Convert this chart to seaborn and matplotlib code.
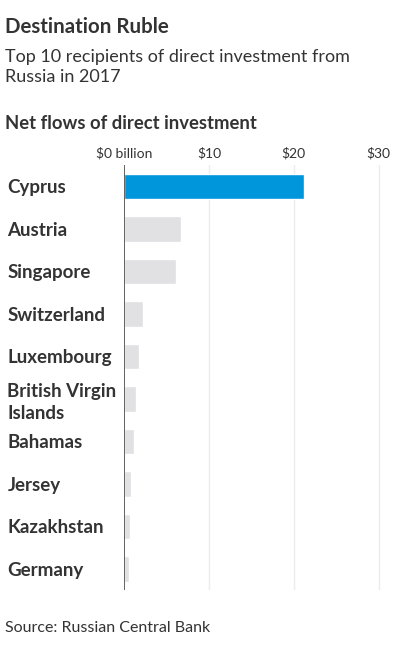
import matplotlib
matplotlib.use('Agg')
import matplotlib.pyplot as plt
import seaborn as sns
import pandas as pd

countries = ['Cyprus', 'Austria', 'Singapore', 'Switzerland', 'Luxembourg',
             'British Virgin\nIslands', 'Bahamas', 'Jersey', 'Kazakhstan', 'Germany']
flows = [21.2, 6.7, 6.1, 2.2, 1.8, 1.4, 1.2, 0.8, 0.7, 0.6]
tick_values = [0, 10, 20, 30]
tick_labels = ['$0 billion', '$10', '$20', '$30']

df = pd.DataFrame({'country': countries, 'flow': flows})

sns.set_theme(style='white')
plt.rcParams['font.family'] = ['Lato', 'DejaVu Sans']

fig = plt.figure(figsize=(3.96, 6.56), dpi=100)
ax = fig.add_axes([124 / 396, 1 - 590 / 656, (383 - 124) / 396, (590 - 165) / 656])

colors = ['#0096db'] + ['#e1e1e3'] * (len(countries) - 1)
sns.barplot(data=df, x='flow', y='country', hue='country', palette=colors,
            legend=False, width=0.6, ax=ax, saturation=1)

ax.set_xlim(0, 30.5)
ax.set_ylim(len(countries) - 0.5, -0.5)
ax.set_xlabel('')
ax.set_ylabel('')
for v in tick_values[1:]:
    ax.axvline(v, color='#ebebeb', lw=1, zorder=0)
ax.axvline(0, color='#555555', lw=1.3, zorder=3)
for s in ax.spines.values():
    s.set_visible(False)

ax.xaxis.tick_top()
ax.set_xticks(tick_values)
ax.set_xticklabels(tick_labels, fontsize=10, color='#333333')
ax.tick_params(axis='x', length=0, pad=4)
ax.tick_params(axis='y', length=0, pad=84)
for lab in ax.get_yticklabels():
    lab.set_ha('left')
    lab.set_fontweight('bold')
    lab.set_fontsize(13.5)
    lab.set_color('#333333')
    lab.set_linespacing(1.35)

fig.text(5 / 396, 1 - 33 / 656, 'Destination Ruble', fontsize=14.8, fontweight='bold', color='#333333')
fig.text(5 / 396, 1 - 82 / 656, 'Top 10 recipients of direct investment from\nRussia in 2017',
         fontsize=13, color='#333333', linespacing=1.3)
fig.text(5 / 396, 1 - 129 / 656, 'Net flows of direct investment', fontsize=13.3,
         fontweight='bold', color='#333333')
fig.text(5 / 396, 1 - 632 / 656, 'Source: Russian Central Bank', fontsize=11.5, color='#333333')

fig.savefig('out.png', dpi=100, facecolor='white')
